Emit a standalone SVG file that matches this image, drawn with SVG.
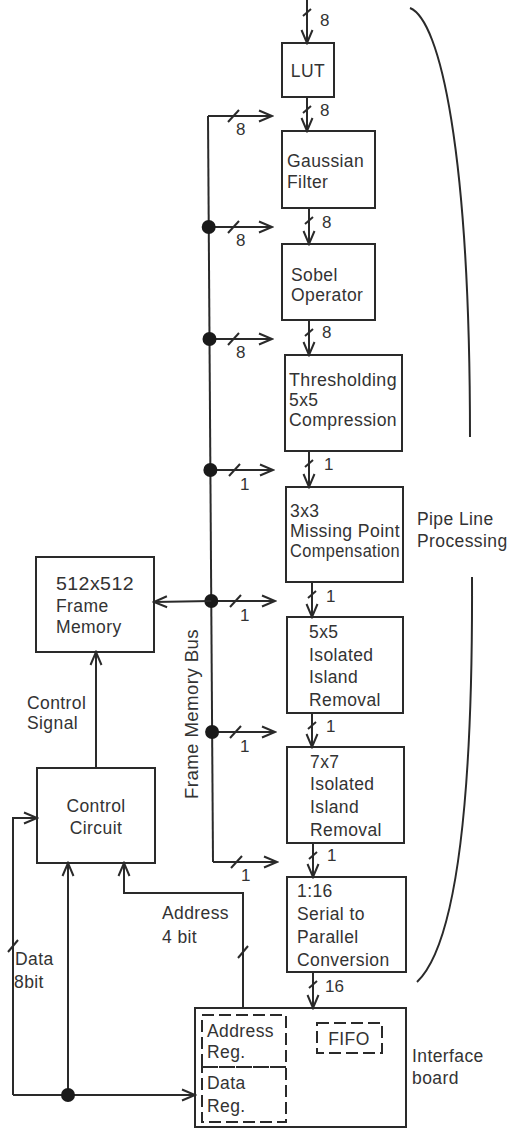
<svg xmlns="http://www.w3.org/2000/svg" width="514" height="1129" viewBox="0 0 514 1129">
<defs>
<marker id="ah" markerUnits="userSpaceOnUse" markerWidth="16" markerHeight="14" refX="14" refY="7" orient="auto">
<path d="M1,1.5 L14,7 L1,12.5" fill="none" stroke="#2a2a2a" stroke-width="2"/>
</marker>
<style>
.box{fill:none;stroke:#2a2a2a;stroke-width:2}
.dash{fill:none;stroke:#2a2a2a;stroke-width:2;stroke-dasharray:12 5}
.ln{fill:none;stroke:#2a2a2a;stroke-width:2}
.arr{fill:none;stroke:#2a2a2a;stroke-width:2;marker-end:url(#ah)}
.t{font-family:"Liberation Sans",Arial,sans-serif;font-size:17.5px;letter-spacing:0.4px;fill:#333}
.n{font-family:"Liberation Sans",Arial,sans-serif;font-size:17px;fill:#333}
.m{text-anchor:middle}
.dot{fill:#1a1a1a}
</style>
</defs>
<rect width="514" height="1129" fill="#fff"/>

<g id="node-lut">
<rect class="box" x="282" y="43" width="52" height="54"/>
<text class="t m" x="308" y="77">LUT</text>
</g>
<g id="node-gaussian">
<rect class="box" x="282" y="131" width="93" height="77"/>
<text class="t" x="287" y="167">Gaussian</text>
<text class="t" x="287" y="188">Filter</text>
</g>
<g id="node-sobel">
<rect class="box" x="282" y="244" width="93" height="76"/>
<text class="t" x="291" y="281">Sobel</text>
<text class="t" x="291" y="301">Operator</text>
</g>
<g id="node-threshold">
<rect class="box" x="285" y="355" width="117" height="96"/>
<text class="t" x="289" y="386" textLength="108" lengthAdjust="spacingAndGlyphs">Thresholding</text>
<text class="t" x="289" y="406">5x5</text>
<text class="t" x="289" y="426" textLength="108" lengthAdjust="spacingAndGlyphs">Compression</text>
</g>
<g id="node-missing">
<rect class="box" x="286" y="487" width="117" height="95"/>
<text class="t" x="290" y="517">3x3</text>
<text class="t" x="290" y="537" textLength="110" lengthAdjust="spacingAndGlyphs">Missing Point</text>
<text class="t" x="290" y="557" textLength="110" lengthAdjust="spacingAndGlyphs">Compensation</text>
</g>
<g id="node-island5">
<rect class="box" x="287" y="617" width="116" height="96"/>
<text class="t" x="309" y="638">5x5</text>
<text class="t" x="309" y="661">Isolated</text>
<text class="t" x="309" y="683">Island</text>
<text class="t" x="309" y="706">Removal</text>
</g>
<g id="node-island7">
<rect class="box" x="287" y="747" width="117" height="96"/>
<text class="t" x="310" y="768">7x7</text>
<text class="t" x="310" y="790">Isolated</text>
<text class="t" x="310" y="813">Island</text>
<text class="t" x="310" y="836">Removal</text>
</g>
<g id="node-serial">
<rect class="box" x="287" y="877" width="119" height="95"/>
<text class="t" x="297" y="897">1:16</text>
<text class="t" x="297" y="920">Serial to</text>
<text class="t" x="297" y="943">Parallel</text>
<text class="t" x="297" y="966">Conversion</text>
</g>
<g id="node-interface">
<rect class="box" x="195" y="1008" width="211" height="119"/>
<rect class="dash" x="202" y="1015" width="84" height="52"/>
<rect class="dash" x="202" y="1067" width="84" height="55"/>
<rect class="dash" x="317" y="1023" width="65" height="30"/>
<text class="t" x="207" y="1037">Address</text>
<text class="t" x="207" y="1058">Reg.</text>
<text class="t" x="207" y="1089">Data</text>
<text class="t" x="207" y="1112">Reg.</text>
<text class="t m" x="349" y="1045">FIFO</text>
<text class="t" x="412" y="1062">Interface</text>
<text class="t" x="412" y="1084">board</text>
</g>
<g id="node-framememory">
<rect class="box" x="36" y="557" width="118" height="95"/>
<text class="t" x="56" y="590" textLength="78" lengthAdjust="spacingAndGlyphs">512x512</text>
<text class="t" x="56" y="612">Frame</text>
<text class="t" x="56" y="633">Memory</text>
</g>
<g id="node-control">
<rect class="box" x="37" y="768" width="118" height="95"/>
<text class="t m" x="96" y="812">Control</text>
<text class="t m" x="96" y="834">Circuit</text>
</g>
<g id="pipeline-bracket">
<path class="ln" d="M410,8 C440,20 470,150 470,437"/>
<path class="ln" d="M472,577 C473,800 456,945 417,982"/>
<text class="t" x="417" y="525">Pipe Line</text>
<text class="t" x="417" y="547">Processing</text>
</g>

<g id="connectors">
<path class="arr" d="M307,0 L307,43"/>
<path class="arr" d="M307,97 L307,131"/>
<path class="arr" d="M309,208 L309,244"/>
<path class="arr" d="M309,320 L309,355"/>
<path class="arr" d="M309,451 L309,487"/>
<path class="arr" d="M312,582 L312,617"/>
<path class="arr" d="M312,713 L312,747"/>
<path class="arr" d="M313,843 L313,877"/>
<path class="arr" d="M313,972 L313,1008"/>
<g class="ln">
<path d="M303,16 L311,9"/>
<path d="M303,113 L311,106"/>
<path d="M305,224 L313,217"/>
<path d="M305,336 L313,329"/>
<path d="M305,467 L313,460"/>
<path d="M308,598 L316,591"/>
<path d="M308,729 L316,722"/>
<path d="M309,859 L317,852"/>
<path d="M309,988 L317,981"/>
</g>
<text class="n" x="320" y="26">8</text>
<text class="n" x="320" y="116">8</text>
<text class="n" x="322" y="228">8</text>
<text class="n" x="322" y="338">8</text>
<text class="n" x="324" y="470">1</text>
<text class="n" x="326" y="602">1</text>
<text class="n" x="326" y="732">1</text>
<text class="n" x="327" y="861">1</text>
<text class="n" x="325" y="992">16</text>

<path class="ln" d="M208,116 L213,862"/>
<path class="arr" d="M208,116 L272,116"/>
<path class="arr" d="M208.7,227 L272,227"/>
<path class="arr" d="M209.5,339 L272,339"/>
<path class="arr" d="M210.4,470 L273,470"/>
<path class="arr" d="M211.3,601 L275,601"/>
<path class="arr" d="M212.1,732 L275,732"/>
<path class="arr" d="M213,862 L277,862"/>
<circle class="dot" cx="208.7" cy="227" r="7"/>
<circle class="dot" cx="209.5" cy="339" r="7"/>
<circle class="dot" cx="210.4" cy="470" r="7"/>
<circle class="dot" cx="211.3" cy="601" r="7"/>
<circle class="dot" cx="212.1" cy="732" r="7"/>
<g class="ln">
<path d="M228,122 L239,110"/>
<path d="M228,233 L239,221"/>
<path d="M228,345 L239,333"/>
<path d="M229,476 L240,464"/>
<path d="M230,607 L241,595"/>
<path d="M230,738 L241,726"/>
<path d="M231,868 L242,856"/>
</g>
<text class="n" x="236" y="135">8</text>
<text class="n" x="236" y="246">8</text>
<text class="n" x="236" y="358">8</text>
<text class="n" x="240" y="490">1</text>
<text class="n" x="240" y="621">1</text>
<text class="n" x="240" y="752">1</text>
<text class="n" x="241" y="881">1</text>
<text class="t m" transform="translate(198,714) rotate(-90)" textLength="170" lengthAdjust="spacingAndGlyphs">Frame Memory Bus</text>

<path class="arr" d="M211.3,601 L154,602"/>
<path class="arr" d="M96,768 L96,652"/>
<text class="t" x="27" y="709">Control</text>
<text class="t" x="27" y="729">Signal</text>

<path class="arr" d="M13,1095 L195,1095"/>
<path class="arr" d="M13,1095 L13,818 L37,818"/>
<path class="arr" d="M68,1095 L68,863"/>
<circle class="dot" cx="68" cy="1095" r="7"/>
<path class="ln" d="M8,952 L18,940"/>
<text class="t" x="15" y="965">Data</text>
<text class="t" x="14" y="988">8bit</text>

<path class="arr" d="M243,1008 L243,893 L124,893 L124,863"/>
<path class="ln" d="M238,958 L248,946"/>
<text class="t" x="162" y="919">Address</text>
<text class="t" x="162" y="943">4 bit</text>
</g>
</svg>
